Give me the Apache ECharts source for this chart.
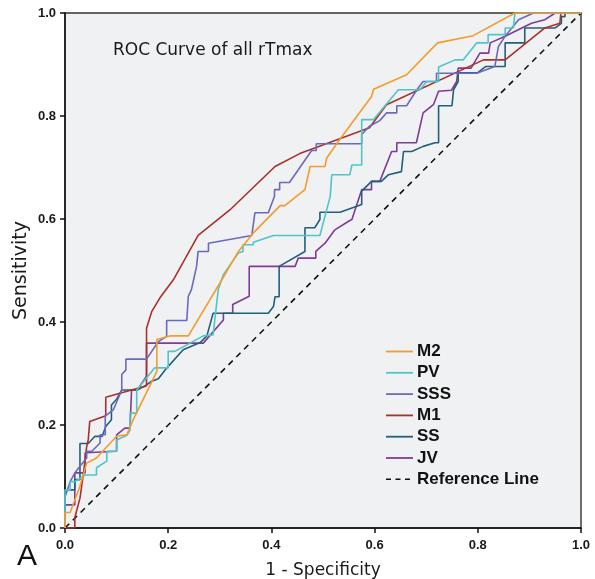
<!DOCTYPE html>
<html>
<head>
<meta charset="utf-8">
<script src="https://cdn.jsdelivr.net/npm/echarts@6/dist/echarts.min.js"></script>
<style>
  html, body { margin: 0; padding: 0; background: #ffffff; }
  #chart { width: 595px; height: 579px; }
</style>
</head>
<body>
<div id="chart"></div>
<script>
// Axis ticks (false positive rate on x, sensitivity on y)
const tickValues = [0, 0.2, 0.4, 0.6, 0.8, 1.0];

// ROC coordinates, [1 - specificity, sensitivity]
const m2Points = [[0,0],[0,0.03],[0.01,0.03],[0.029,0.081],[0.042,0.126],[0.061,0.136],[0.1,0.178],[0.12,0.181],[0.132,0.21],[0.178,0.304],[0.178,0.366],[0.203,0.373],[0.239,0.373],[0.304,0.482],[0.336,0.537],[0.365,0.573],[0.417,0.626],[0.426,0.626],[0.465,0.657],[0.475,0.702],[0.504,0.702],[0.507,0.718],[0.53,0.751],[0.594,0.838],[0.598,0.852],[0.662,0.88],[0.722,0.942],[0.791,0.956],[0.872,1],[1,1]];

const pvPoints = [[0,0],[0,0.074],[0.01,0.074],[0.01,0.09],[0.019,0.09],[0.039,0.103],[0.061,0.103],[0.061,0.117],[0.081,0.13],[0.081,0.149],[0.1,0.149],[0.1,0.171],[0.12,0.18],[0.126,0.19],[0.126,0.223],[0.139,0.223],[0.139,0.268],[0.174,0.311],[0.2,0.311],[0.2,0.343],[0.213,0.343],[0.268,0.373],[0.287,0.375],[0.297,0.463],[0.307,0.492],[0.336,0.534],[0.345,0.537],[0.345,0.55],[0.365,0.55],[0.365,0.555],[0.404,0.568],[0.494,0.568],[0.514,0.644],[0.517,0.686],[0.552,0.686],[0.556,0.705],[0.575,0.705],[0.575,0.793],[0.598,0.793],[0.646,0.851],[0.688,0.851],[0.701,0.867],[0.724,0.867],[0.724,0.895],[0.756,0.909],[0.772,0.909],[0.798,0.942],[0.82,0.942],[0.82,0.958],[0.853,0.958],[0.853,0.971],[0.869,0.971],[0.872,1],[1,1]];

const sssPoints = [[0,0],[0,0.06],[0.01,0.09],[0.019,0.107],[0.029,0.12],[0.042,0.136],[0.042,0.149],[0.052,0.149],[0.068,0.165],[0.068,0.181],[0.078,0.181],[0.078,0.217],[0.094,0.23],[0.11,0.268],[0.11,0.298],[0.118,0.307],[0.118,0.328],[0.158,0.328],[0.181,0.362],[0.197,0.372],[0.197,0.403],[0.236,0.403],[0.239,0.45],[0.245,0.463],[0.255,0.508],[0.258,0.537],[0.278,0.537],[0.278,0.553],[0.362,0.568],[0.368,0.612],[0.394,0.612],[0.406,0.644],[0.406,0.657],[0.416,0.657],[0.416,0.671],[0.435,0.671],[0.478,0.733],[0.487,0.733],[0.487,0.746],[0.575,0.746],[0.575,0.764],[0.59,0.78],[0.61,0.791],[0.623,0.806],[0.643,0.806],[0.643,0.82],[0.662,0.82],[0.682,0.851],[0.694,0.867],[0.72,0.867],[0.72,0.883],[0.798,0.883],[0.833,0.896],[0.84,0.935],[0.853,0.955],[0.879,0.987],[0.908,1],[1,1]];

const m1Points = [[0,0],[0.019,0],[0.019,0.02],[0.029,0.058],[0.035,0.1],[0.042,0.158],[0.045,0.171],[0.048,0.207],[0.079,0.218],[0.079,0.254],[0.129,0.268],[0.158,0.276],[0.158,0.388],[0.168,0.42],[0.184,0.447],[0.21,0.482],[0.258,0.568],[0.32,0.618],[0.407,0.702],[0.455,0.727],[0.484,0.738],[0.59,0.777],[0.623,0.822],[0.811,0.909],[0.853,0.909],[0.93,0.971],[0.959,0.98],[0.961,1],[1,1]];

const ssPoints = [[0,0],[0,0.074],[0.019,0.074],[0.019,0.094],[0.029,0.094],[0.029,0.164],[0.045,0.164],[0.058,0.178],[0.072,0.178],[0.079,0.197],[0.09,0.21],[0.09,0.239],[0.1,0.25],[0.11,0.268],[0.14,0.268],[0.155,0.276],[0.168,0.285],[0.181,0.29],[0.194,0.307],[0.229,0.346],[0.262,0.36],[0.275,0.373],[0.287,0.417],[0.394,0.417],[0.404,0.43],[0.407,0.449],[0.415,0.449],[0.415,0.508],[0.465,0.537],[0.465,0.583],[0.484,0.583],[0.494,0.599],[0.494,0.613],[0.533,0.613],[0.575,0.628],[0.575,0.654],[0.594,0.673],[0.613,0.673],[0.627,0.686],[0.652,0.692],[0.656,0.731],[0.672,0.731],[0.694,0.741],[0.717,0.748],[0.724,0.748],[0.724,0.82],[0.75,0.82],[0.753,0.851],[0.762,0.867],[0.762,0.884],[0.8,0.884],[0.815,0.896],[0.853,0.896],[0.853,0.942],[0.891,0.942],[0.891,0.971],[0.95,0.971],[0.962,0.98],[0.962,0.993],[0.969,0.993],[0.969,1],[1,1]];

const jvPoints = [[0,0],[0,0.045],[0.019,0.045],[0.019,0.107],[0.039,0.107],[0.039,0.146],[0.1,0.149],[0.1,0.181],[0.116,0.194],[0.126,0.194],[0.129,0.268],[0.14,0.268],[0.158,0.295],[0.158,0.359],[0.268,0.359],[0.307,0.404],[0.307,0.417],[0.325,0.417],[0.325,0.434],[0.357,0.45],[0.357,0.508],[0.446,0.508],[0.452,0.524],[0.486,0.524],[0.486,0.537],[0.504,0.553],[0.523,0.579],[0.552,0.597],[0.556,0.599],[0.575,0.657],[0.594,0.657],[0.594,0.673],[0.61,0.673],[0.633,0.731],[0.643,0.731],[0.643,0.748],[0.681,0.748],[0.694,0.806],[0.714,0.822],[0.724,0.848],[0.749,0.85],[0.759,0.867],[0.762,0.893],[0.787,0.893],[0.804,0.922],[0.821,0.922],[0.824,0.942],[0.853,0.955],[0.904,0.98],[0.93,0.987],[0.95,1],[1,1]];

const referencePoints = [[0,0],[1,1]];

const seriesNames = ['M2', 'PV', 'SSS', 'M1', 'SS', 'JV', 'Reference Line'];
const seriesColors = ['#f59b2c', '#4fc5c8', '#6a6abb', '#aa302b', '#245f78', '#7e3b97', '#111111'];
const seriesPoints = [m2Points, pvPoints, sssPoints, m1Points, ssPoints, jvPoints, referencePoints];

const refDash = [5, 4.5];

const chart = echarts.init(document.getElementById('chart'), null, { renderer: 'canvas' });

const series = seriesNames.map((name, i) => ({
  name: name,
  type: 'line',
  data: seriesPoints[i],
  symbol: 'none',
  animation: false,
  z: 2 + (seriesNames.length - i),
  lineStyle: {
    color: seriesColors[i],
    width: 1.6,
    type: name === 'Reference Line' ? [6, 5] : 'solid'
  },
  itemStyle: { color: seriesColors[i] }
}));

// Key box: a short sample stroke per series followed by its name
const keyLeft = 386, keyTop = 351.5, keyStep = 21.3, keyLen = 27;
const keyItems = [];
seriesNames.forEach((name, i) => {
  const cy = keyTop + i * keyStep;
  keyItems.push({
    type: 'line',
    shape: { x1: keyLeft, y1: cy, x2: keyLeft + keyLen, y2: cy },
    style: {
      stroke: seriesColors[i],
      lineWidth: name === 'Reference Line' ? 1.6 : 1.8,
      lineDash: name === 'Reference Line' ? refDash : null
    },
    z: 20
  });
  keyItems.push({
    type: 'text',
    x: keyLeft + keyLen + 4, y: cy,
    style: {
      text: name,
      font: 'bold 17px "Liberation Sans", Arial, sans-serif',
      fill: '#111111',
      textVerticalAlign: 'middle',
      verticalAlign: 'middle'
    },
    z: 20
  });
});

const tickFont = {
  fontFamily: '"Liberation Sans", Arial, sans-serif',
  fontWeight: 'bold',
  fontSize: 13,
  color: '#1a1a1a'
};

chart.setOption({
  backgroundColor: '#ffffff',
  animation: false,
  grid: {
    left: 65, right: 14, top: 13, bottom: 51,
    outerBoundsMode: 'none',
    containLabel: false,
    show: true,
    backgroundColor: '#f0f1f2',
    borderColor: '#333333',
    borderWidth: 1.4
  },
  xAxis: {
    type: 'value',
    min: 0, max: 1, interval: 0.2,
    name: '1 - Specificity',
    nameLocation: 'middle',
    nameGap: 34,
    nameMoveOverlap: false,
    nameTextStyle: { fontFamily: '"DejaVu Sans", sans-serif', fontSize: 17, color: '#1a1a1a' },
    axisLine: { show: true, lineStyle: { color: '#111111', width: 1.5 } },
    axisTick: { show: true, inside: false, length: 5, lineStyle: { color: '#111111', width: 1.5 } },
    axisLabel: Object.assign({ margin: 11, formatter: v => tickValues.includes(+v.toFixed(1)) ? v.toFixed(1) : '' }, tickFont),
    splitLine: { show: false }
  },
  yAxis: {
    type: 'value',
    min: 0, max: 1, interval: 0.2,
    name: 'Sensitivity',
    nameLocation: 'middle',
    nameGap: 34,
    nameMoveOverlap: false,
    nameTextStyle: { fontFamily: '"DejaVu Sans", sans-serif', fontSize: 19, color: '#1a1a1a' },
    axisLine: { show: true, lineStyle: { color: '#111111', width: 1.5 } },
    axisTick: { show: true, inside: false, length: 5, lineStyle: { color: '#111111', width: 1.5 } },
    axisLabel: Object.assign({ margin: 9, formatter: v => v.toFixed(1) }, tickFont),
    splitLine: { show: false }
  },
  graphic: [
    {
      type: 'text',
      left: 113, top: 42,
      style: {
        text: 'ROC Curve of all rTmax',
        font: '17px "DejaVu Sans", sans-serif',
        fill: '#1a1a1a'
      }
    },
    {
      type: 'text',
      left: 17, top: 542,
      style: {
        text: 'A',
        font: '30px "Liberation Sans", Arial, sans-serif',
        fill: '#111111'
      }
    },
    { type: 'group', children: keyItems }
  ],
  series: series
});
</script>
</body>
</html>
